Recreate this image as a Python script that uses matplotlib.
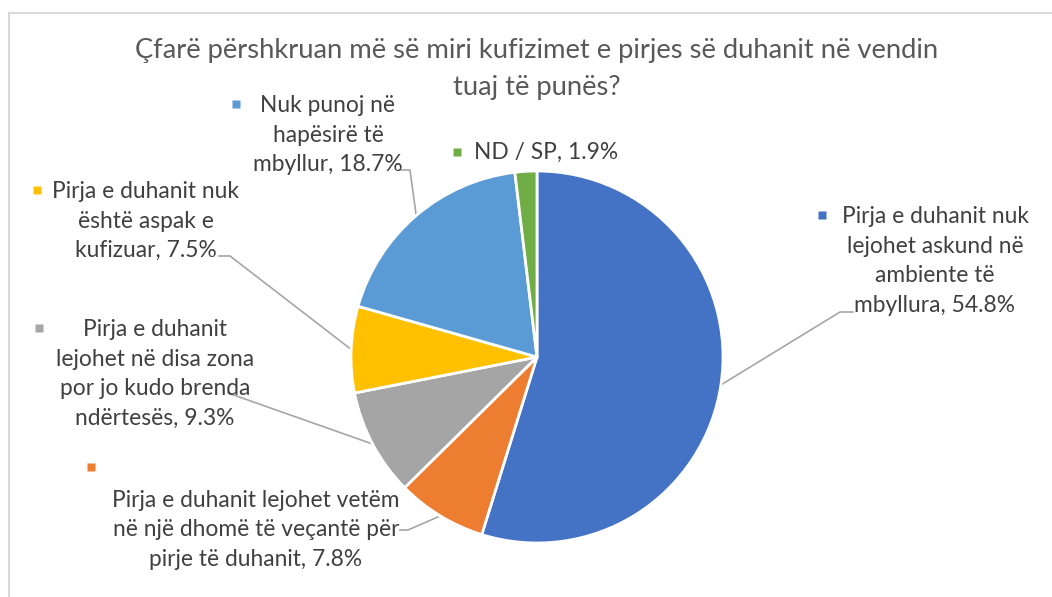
import matplotlib.pyplot as plt
from matplotlib.lines import Line2D
import numpy as np

W, H = 1052, 597

# data
labels = [
    "Pirja e duhanit nuk\nlejohet askund në\nambiente të\nmbyllura, 54.8%",
    "Pirja e duhanit lejohet vetëm\nnë një dhomë të veçantë për\npirje të duhanit, 7.8%",
    "Pirja e duhanit\nlejohet në disa zona\npor jo kudo brenda\nndërtesës, 9.3%",
    "Pirja e duhanit nuk\nështë aspak e\nkufizuar, 7.5%",
    "Nuk punoj në\nhapësirë të\nmbyllur, 18.7%",
    "ND / SP, 1.9%",
]
values = [54.8, 7.8, 9.3, 7.5, 18.7, 1.9]
colors = ["#4472C4", "#ED7D31", "#A5A5A5", "#FFC000", "#5B9BD5", "#70AD47"]
title = "Çfarë përshkruan më së miri kufizimet e pirjes së duhanit në vendin\ntuaj të punës?"

plt.rcParams['font.family'] = ['Lato', 'DejaVu Sans']

fig = plt.figure(figsize=(W / 100, H / 100), dpi=100)
ax = fig.add_axes([0, 0, 1, 1])

cx, cy, r = 537, H - 357, 186
wedges, _ = ax.pie(values, colors=colors, startangle=90, counterclock=False,
                   center=(cx, cy), radius=r,
                   wedgeprops=dict(edgecolor="white", linewidth=2))
ax.set_xlim(0, W)
ax.set_ylim(0, H)
ax.set_aspect("equal")
ax.axis("off")

# chart border (top and left visible)
ax.add_line(Line2D([8.5, W], [H - 12.5, H - 12.5], color="#D9D9D9", lw=1.5))
ax.add_line(Line2D([8.5, 8.5], [0, H - 12.5], color="#D9D9D9", lw=1.5))

ax.text(537, H - 69, title, ha="center", va="center", fontsize=19.7,
        color="#595959", linespacing=1.58)

# label layout: text centre (x, y), marker (x, y), leader knee points (pixels)
txt_pos = [(935, 261), (256, 530), (155, 374), (146, 221), (328, 135), (546, 152)]
mk_pos = [(822, 215), (91, 467), (39, 328), (37, 190), (236, 104), (457, 152)]
knees = [
    [(840, 312), (853, 312)],
    [(408, 530), (400, 530)],
    [(228, 393)],
    [(230, 256), (219, 256)],
    [(410, 170), (399, 170)],
    None,
]

for w, lab, tp, mp, kn, col in zip(wedges, labels, txt_pos, mk_pos, knees, colors):
    ang = np.deg2rad((w.theta1 + w.theta2) / 2)
    ax.text(tp[0], H - tp[1], lab, ha="center", va="center", fontsize=16.4,
            color="#404040", linespacing=1.52)
    ax.plot(mp[0], H - mp[1], marker="s", ms=6, color=col, mec="none")
    if kn:
        xs = [cx + r * np.cos(ang)] + [p[0] for p in kn]
        ys = [cy + r * np.sin(ang)] + [H - p[1] for p in kn]
        ax.plot(xs, ys, color="#A6A6A6", lw=1.2, zorder=0.5)

fig.savefig("out.png", dpi=100)
